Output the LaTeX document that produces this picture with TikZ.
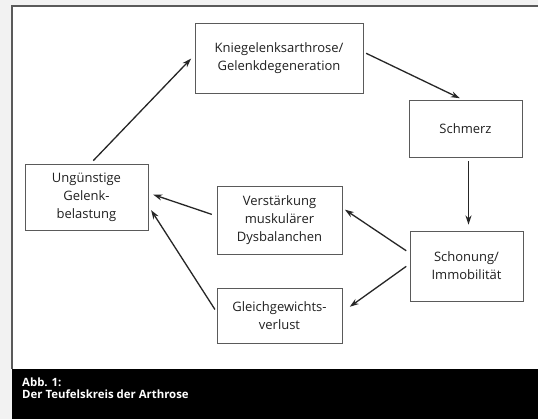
\documentclass[tikz,border=0pt]{standalone}
\usepackage{fontspec}
\setmainfont{Open Sans}
\usetikzlibrary{arrows.meta}
\definecolor{boxline}{HTML}{5A5A5A}
\definecolor{txt}{HTML}{202020}
\definecolor{bg}{HTML}{F2F2F2}
\tikzset{
  box/.style={draw=boxline, line width=0.9pt, fill=white, align=center,
    inner sep=0pt, text=txt, font=\fontsize{13}{18}\selectfont},
  arr/.style={draw=black!85, line width=1.3pt, -{Stealth[length=9pt,width=6pt]}},
}
\begin{document}
\begin{tikzpicture}[x=1pt,y=-1pt]
\useasboundingbox (0,0) rectangle (538,419);
\fill[bg] (0,0) rectangle (538,419);
\fill[white] (12,6) rectangle (538,369);
\draw[boxline, line width=1.6pt] (12,369) -- (12,6) -- (538,6);
\fill[black] (12,369) rectangle (538,419);
\node[anchor=north west, text=white, align=left, inner sep=0pt,
  font=\fontsize{11.4}{12}\selectfont\bfseries] (cap) at (22,377.5)
  {Abb. 1:\\Der Teufelskreis der Arthrose};

\node[box, minimum width=168pt, minimum height=70pt] (knie) at (279,58)
  {Kniegelenksarthrose/\\Gelenkdegeneration};
\node[box, minimum width=113pt, minimum height=57pt] (schm) at (465.5,128.5)
  {Schmerz};
\node[box, minimum width=123pt, minimum height=66pt] (ung) at (86.5,197)
  {Ungünstige\\Gelenk-\\belastung};
\node[box, minimum width=125pt, minimum height=68pt] (verst) at (279.5,220)
  {Verstärkung\\muskulärer\\Dysbalanchen};
\node[box, minimum width=113pt, minimum height=70pt] (schon) at (466.5,266)
  {Schonung/\\Immobilität};
\node[box, minimum width=125pt, minimum height=55pt] (gleich) at (279.5,316)
  {Gleichgewichts-\\verlust};

\draw[arr, shorten <=4pt, shorten >=5pt] ([xshift=4pt]ung.north) -- ([yshift=3pt]knie.west);
\draw[arr, shorten <=3pt, shorten >=3pt] ([yshift=6pt]knie.east) -- ([xshift=-3pt]schm.north);
\draw[arr, shorten <=4pt, shorten >=6pt] ([xshift=3pt]schm.south) -- ([xshift=3pt]schm.south |- schon.north);
\draw[arr, shorten <=4pt, shorten >=3pt] ([yshift=13pt]schon.west) -- ([yshift=12pt]verst.east);
\draw[arr, shorten <=4pt, shorten >=9pt] ([yshift=2pt]schon.west) -- ([yshift=4pt]gleich.east);
\draw[arr, shorten <=5pt, shorten >=5pt] ([yshift=4pt]verst.west) -- ([yshift=4pt]ung.east);
\draw[arr, shorten <=3pt, shorten >=5pt] ([yshift=4pt]gleich.west) -- ([yshift=-9pt]ung.east);
\end{tikzpicture}
\end{document}
